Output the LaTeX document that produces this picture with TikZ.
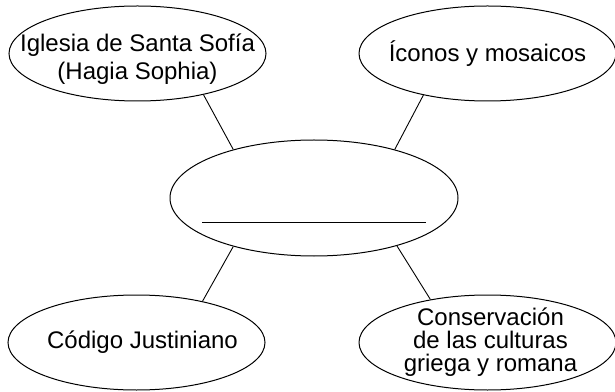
\documentclass[tikz,border=0pt]{standalone}
\usepackage{fontspec}
\setmainfont{Liberation Sans}
\usetikzlibrary{shapes.geometric}
\usetikzlibrary{positioning}

\begin{document}
\begin{tikzpicture}[
    node distance=38pt,
    topic/.style={draw, ellipse, line width=1pt, inner sep=0pt,
      minimum width=257pt, minimum height=95pt},
    hub/.style={draw, ellipse, line width=1pt, inner sep=0pt,
      minimum width=288pt, minimum height=116pt},
    txt/.style={font=\fontsize{24}{28}\selectfont, align=center, inner sep=0pt},
    link/.style={line width=0.9pt}
  ]
  \useasboundingbox (0,0) rectangle (615pt,391pt);
  % Define nodes
  \node[hub] (c) at (314pt,193pt) {};
  \node[topic, above=of c, xshift=-176.5pt,
    label={[txt, yshift=-6pt]center:Iglesia de Santa Sofía\\(Hagia Sophia)}] (sofia) {};
  \node[topic, above=of c, xshift=173.5pt,
    label={[txt]center:Íconos y mosaicos}] (iconos) {};
  \node[topic, below=of c, xshift=-177.5pt,
    label={[txt, xshift=6pt]center:Código Justiniano}] (codigo) {};
  \node[topic, below=of c, xshift=173.5pt,
    label={[txt, font=\fontsize{24}{23}\selectfont, xshift=3pt]center:Conservación\\de las culturas\\griega y romana}] (cultura) {};
  % Blank line in the middle
  \draw[link] ([xshift=-112pt, yshift=-24pt]c.center) -- ([xshift=112pt, yshift=-24pt]c.center);
  % Connect nodes
  \draw[link] (sofia.-32) -- (c.149);
  \draw[link] (iconos.-147) -- (c.31);
  \draw[link] (codigo.32) -- (c.-149);
  \draw[link] (cultura.143) -- (c.-30);
\end{tikzpicture}
\end{document}
